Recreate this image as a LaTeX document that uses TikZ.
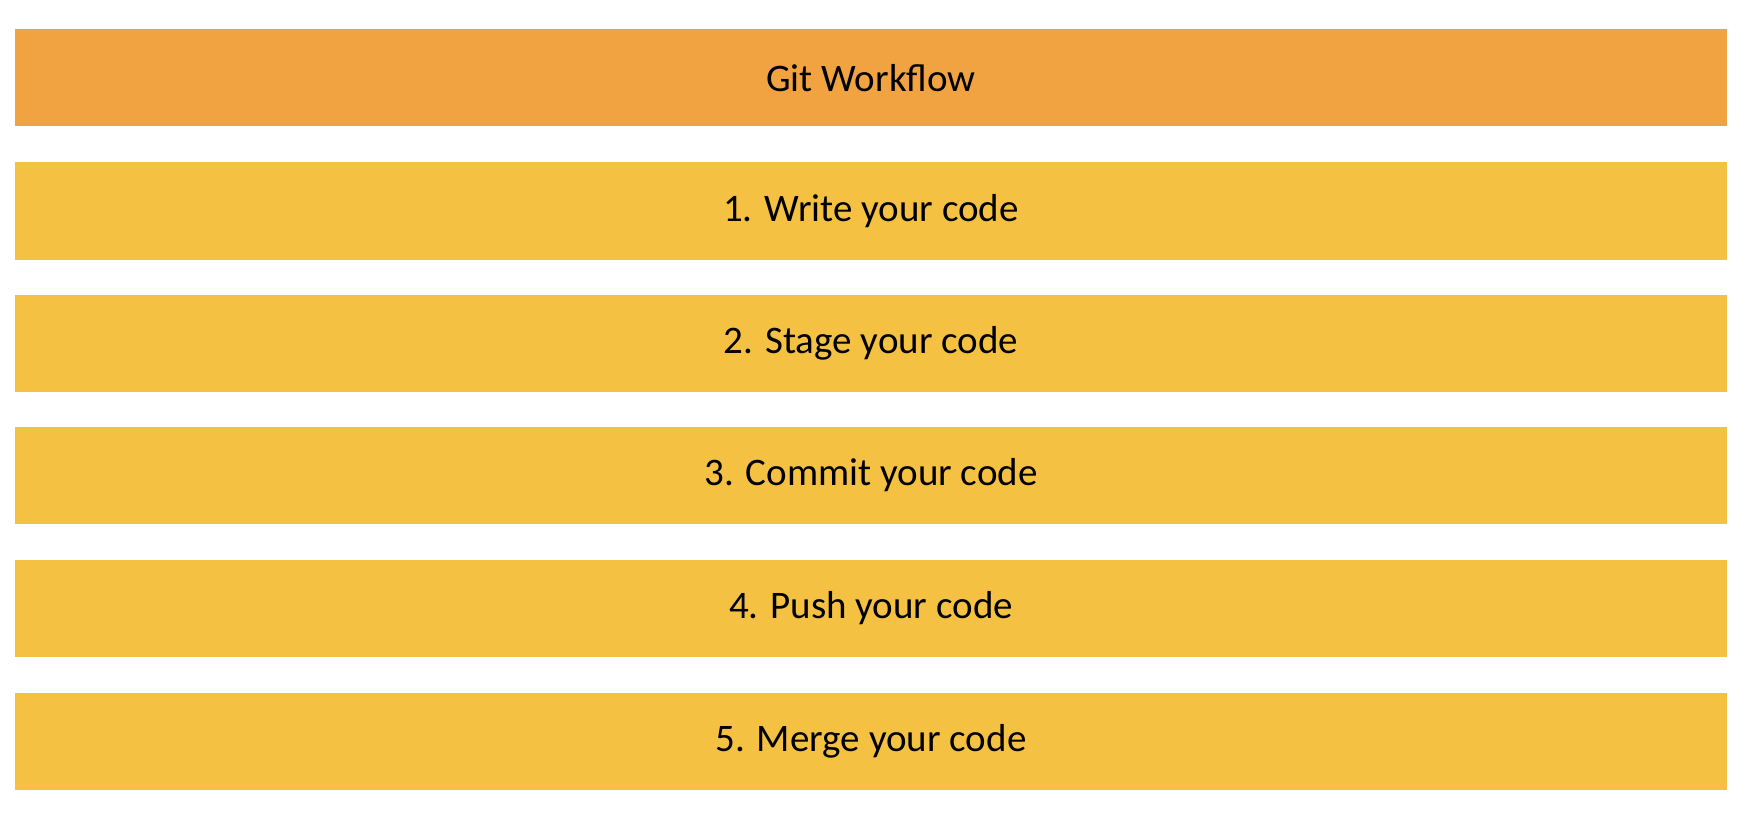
\documentclass[tikz,border=0pt]{standalone}
\usepackage{fontspec}
\setmainfont{Carlito}
\definecolor{titlefill}{RGB}{240,163,64}
\definecolor{stepfill}{RGB}{245,193,67}
\begin{document}
\begin{tikzpicture}[x=1pt,y=-1pt,
  bar/.style={minimum width=1712pt,minimum height=97pt,inner sep=0pt,anchor=center,font=\fontsize{39}{44}\selectfont,text=black},
  titlebar/.style={bar,fill=titlefill},
  stepbar/.style={bar,fill=stepfill}]
\useasboundingbox (0,0) rectangle (1760,826);
\node[titlebar] (title) at (871,78) {Git Workflow};
\node[stepbar] (s1) at (871,211) {1. Write your code};
\node[stepbar] (s2) at (871,343) {2. Stage your code};
\node[stepbar] (s3) at (871,475) {3. Commit your code};
\node[stepbar] (s4) at (871,608) {4. Push your code};
\node[stepbar] (s5) at (871,741) {5. Merge your code};
\end{tikzpicture}
\end{document}
